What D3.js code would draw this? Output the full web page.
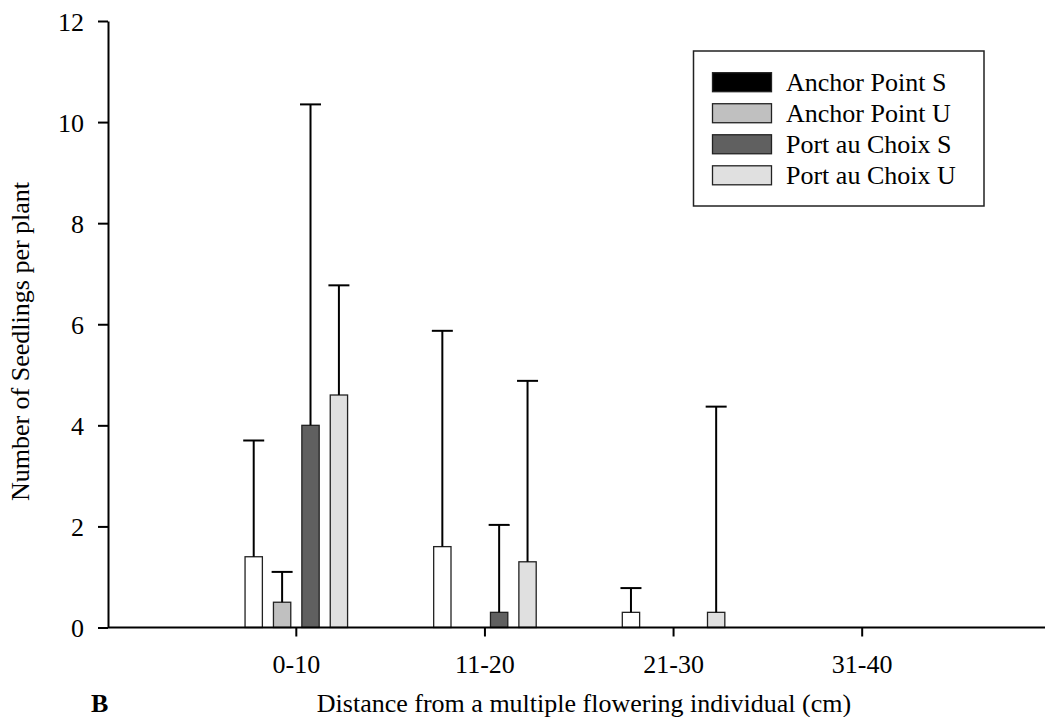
<!DOCTYPE html>
<html>
<head>
<meta charset="utf-8">
<script src="https://cdn.jsdelivr.net/npm/d3@7/dist/d3.min.js"></script>
<style>
  html, body { margin: 0; padding: 0; background: #fff; }
  svg { display: block; }
  text { font-family: "Liberation Serif", "Times New Roman", serif; fill: #000; }
</style>
</head>
<body>
<script>
// ---- Data ----
const categories = ["0-10", "11-20", "21-30", "31-40"];
const seriesNames = ["Anchor Point S", "Anchor Point U", "Port au Choix S", "Port au Choix U"];
const anchorPointS = [1.4, 1.6, 0.3, 0];
const anchorPointSErr = [2.3, 4.27, 0.48, 0];
const anchorPointU = [0.5, 0, 0, 0];
const anchorPointUErr = [0.6, 0, 0, 0];
const portAuChoixS = [4.0, 0.3, 0, 0];
const portAuChoixSErr = [6.35, 1.73, 0, 0];
const portAuChoixU = [4.6, 1.3, 0.3, 0];
const portAuChoixUErr = [2.17, 3.58, 4.07, 0];
const yTicks = [0, 2, 4, 6, 8, 10, 12];

const means = [anchorPointS, anchorPointU, portAuChoixS, portAuChoixU];
const errs = [anchorPointSErr, anchorPointUErr, portAuChoixSErr, portAuChoixUErr];
const barFills = ["#ffffff", "#c0c0c0", "#606060", "#e0e0e0"];
const legendFills = ["#000000", "#c0c0c0", "#606060", "#e0e0e0"];

const W = 1045, H = 717;
const axisLeftX = 108, axisRightX = 1045;
const FONT = 26;

const svg = d3.select("body").append("svg").attr("width", W).attr("height", H);

const y = d3.scaleLinear().domain([0, 12]).range([627.5, 21]);
const x0 = d3.scaleBand().domain(categories).range([202, 956.5]).paddingInner(0).paddingOuter(0);
const x1 = d3.scaleBand().domain(seriesNames).range([-56.8, 56.8]).paddingInner(0.39).paddingOuter(0.195);

// rows
const rows = [];
categories.forEach((c, ci) => {
  seriesNames.forEach((s, si) => {
    rows.push({ cat: c, series: s, si, value: means[si][ci], err: errs[si][ci] });
  });
});

// Bars
const g = svg.append("g");
g.selectAll("rect.bar")
  .data(rows.filter(d => d.value > 0))
  .join("rect")
  .attr("class", "bar")
  .attr("x", d => x0(d.cat) + x0.bandwidth() / 2 + x1(d.series))
  .attr("y", d => y(d.value))
  .attr("width", x1.bandwidth())
  .attr("height", d => y(0) - y(d.value))
  .attr("fill", d => barFills[d.si])
  .attr("stroke", "#222")
  .attr("stroke-width", 1.3);

// Error bars (upper only)
const eb = rows.filter(d => d.err > 0);
const cx = d => x0(d.cat) + x0.bandwidth() / 2 + x1(d.series) + x1.bandwidth() / 2;
g.selectAll("line.err")
  .data(eb).join("line")
  .attr("x1", cx).attr("x2", cx)
  .attr("y1", d => y(d.value)).attr("y2", d => y(d.value + d.err))
  .attr("stroke", "#000").attr("stroke-width", 2);
g.selectAll("line.cap")
  .data(eb).join("line")
  .attr("x1", d => cx(d) - 10.5).attr("x2", d => cx(d) + 10.5)
  .attr("y1", d => y(d.value + d.err)).attr("y2", d => y(d.value + d.err))
  .attr("stroke", "#000").attr("stroke-width", 2);

// Y axis
const yAxis = svg.append("g").attr("transform", `translate(${axisLeftX},0)`)
  .call(d3.axisLeft(y).tickValues(yTicks).tickFormat(d3.format("d")).tickSize(10).tickSizeOuter(0).tickPadding(14));
yAxis.select(".domain").attr("stroke", "#000").attr("stroke-width", 2);
yAxis.selectAll(".tick line").attr("stroke", "#000").attr("stroke-width", 2);
yAxis.selectAll(".tick text").attr("font-size", FONT).attr("font-family", "Liberation Serif, Times New Roman, serif").attr("dy", "0.35em");

// X axis
const xAxis = svg.append("g").attr("transform", `translate(0,${y(0)})`)
  .call(d3.axisBottom(x0).tickSize(9).tickSizeOuter(0).tickPadding(18));
xAxis.select(".domain").remove();
xAxis.append("line").attr("x1", axisLeftX).attr("x2", axisRightX).attr("y1", 0).attr("y2", 0)
  .attr("stroke", "#000").attr("stroke-width", 2);
xAxis.selectAll(".tick line").attr("stroke", "#000").attr("stroke-width", 2);
xAxis.selectAll(".tick text").attr("font-size", FONT).attr("font-family", "Liberation Serif, Times New Roman, serif");

// Axis titles
svg.append("text")
  .attr("transform", "translate(28.5,341.5) rotate(-90)")
  .attr("text-anchor", "middle")
  .attr("font-size", FONT)
  .text("Number of Seedlings per plant");

svg.append("text")
  .attr("x", 584).attr("y", 711.5)
  .attr("text-anchor", "middle")
  .attr("font-size", FONT)
  .text("Distance from a multiple flowering individual (cm)");

svg.append("text")
  .attr("x", 91).attr("y", 711.5)
  .attr("font-size", FONT)
  .attr("font-weight", "bold")
  .text("B");

// Legend
const lg = svg.append("g");
lg.append("rect").attr("x", 693.5).attr("y", 51).attr("width", 290.5).attr("height", 155)
  .attr("fill", "#fff").attr("stroke", "#222").attr("stroke-width", 1.5);
const legendY = d3.scalePoint().domain(seriesNames).range([82.2, 175.3]);
seriesNames.forEach((s, i) => {
  lg.append("rect").attr("x", 712.5).attr("y", legendY(s) - 9.5).attr("width", 59).attr("height", 19)
    .attr("fill", legendFills[i]).attr("stroke", "#222").attr("stroke-width", 1.3);
  lg.append("text").attr("x", 786).attr("y", legendY(s) + 8.6).attr("font-size", FONT).text(s);
});
</script>
</body>
</html>
